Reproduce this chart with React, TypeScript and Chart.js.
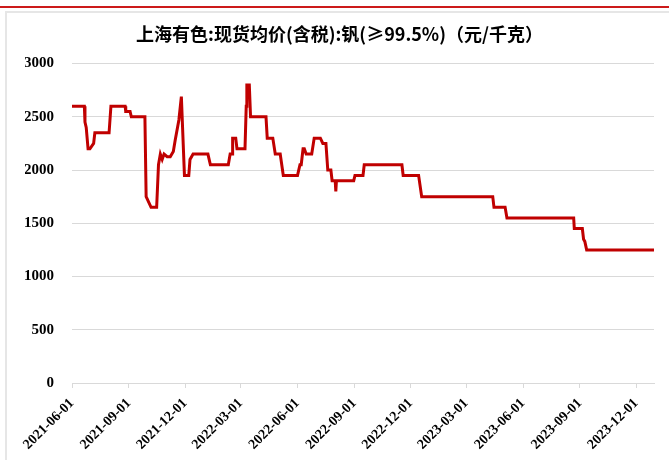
import React, { useEffect, useRef } from "react";
import { Chart, registerables } from "chart.js";

Chart.register(...registerables);

const TITLE = "上海有色:现货均价(含税):钒(≥99.5%)（元/千克）";
const START_DATE = "2021-06-01";
const END_DATE = "2023-12-30";
const tickLabels = [
  "2021-06-01", "2021-09-01", "2021-12-01", "2022-03-01", "2022-06-01", "2022-09-01",
  "2022-12-01", "2023-03-01", "2023-06-01", "2023-09-01", "2023-12-01",
];
const yTicks = [0, 500, 1000, 1500, 2000, 2500, 3000];

const dates = [
  "2021-06-01", "2021-06-21", "2021-06-22", "2021-06-24", "2021-06-27", "2021-06-30",
  "2021-07-06", "2021-07-08", "2021-07-31", "2021-08-03", "2021-08-26", "2021-08-27",
  "2021-09-03", "2021-09-05", "2021-09-27", "2021-09-29", "2021-10-07", "2021-10-16",
  "2021-10-19", "2021-10-22", "2021-10-25", "2021-10-28", "2021-11-02", "2021-11-07",
  "2021-11-12", "2021-11-15", "2021-11-21", "2021-11-25", "2021-11-30", "2021-12-07",
  "2021-12-09", "2021-12-14", "2022-01-07", "2022-01-11", "2022-02-09", "2022-02-12",
  "2022-02-15", "2022-02-16", "2022-02-21", "2022-02-23", "2022-03-08", "2022-03-10",
  "2022-03-11", "2022-03-15", "2022-03-17", "2022-04-11", "2022-04-13", "2022-04-22",
  "2022-04-26", "2022-05-04", "2022-05-09", "2022-06-01", "2022-06-05", "2022-06-07",
  "2022-06-10", "2022-06-12", "2022-06-15", "2022-06-24", "2022-06-28", "2022-07-08",
  "2022-07-12", "2022-07-17", "2022-07-20", "2022-07-25", "2022-07-27", "2022-08-01",
  "2022-08-02", "2022-08-03", "2022-08-31", "2022-09-02", "2022-09-15", "2022-09-17",
  "2022-11-17", "2022-11-19", "2022-12-14", "2022-12-19", "2023-04-13", "2023-04-15",
  "2023-05-03", "2023-05-06", "2023-08-22", "2023-08-23", "2023-09-05", "2023-09-07",
  "2023-09-09", "2023-09-12", "2023-12-30",
];
const values = [
  2600, 2600, 2450, 2400, 2200, 2200,
  2250, 2350, 2350, 2600, 2600, 2550,
  2550, 2500, 2500, 1750, 1650, 1650,
  2050, 2150, 2100, 2150, 2125, 2125,
  2175, 2280, 2470, 2690, 1950, 1950,
  2100, 2150, 2150, 2050, 2050, 2150,
  2150, 2300, 2300, 2200, 2200, 2600,
  2800, 2800, 2500, 2500, 2300, 2300,
  2150, 2150, 1950, 1950, 2050, 2050,
  2200, 2200, 2150, 2150, 2300, 2300,
  2250, 2250, 2000, 2000, 1900, 1900,
  1800, 1900, 1900, 1950, 1950, 2050,
  2050, 1950, 1950, 1750, 1750, 1650,
  1650, 1550, 1550, 1450, 1450, 1350,
  1330, 1250, 1250,
];

const dayOf = (s: string) => {
  const [y, m, d] = s.split("-").map(Number);
  const [y0, m0, d0] = START_DATE.split("-").map(Number);
  return Math.round((Date.UTC(y, m - 1, d) - Date.UTC(y0, m0 - 1, d0)) / 86400000);
};

export default function App() {
  const ref = useRef<HTMLCanvasElement | null>(null);
  useEffect(() => {
    document.body.style.margin = "0";
    if (!ref.current) return;
    const tickDays = tickLabels.map(dayOf);
    const labelByDay: Record<number, string> = {};
    tickLabels.forEach((t, i) => (labelByDay[tickDays[i]] = t));
    const points = dates.map((d, i) => ({ x: dayOf(d), y: values[i] }));
    const chart = new Chart(ref.current, {
      type: "line",
      data: {
        datasets: [
          {
            data: points,
            borderColor: "#C00000",
            borderWidth: 3,
            pointRadius: 0,
            tension: 0,
            fill: false,
          },
        ],
      },
      options: {
        animation: false,
        responsive: false,
        maintainAspectRatio: false,
        layout: { padding: { left: 25, right: 15, top: 0, bottom: 0 } },
        plugins: {
          legend: { display: false },
          tooltip: { enabled: false },
          title: {
            display: true,
            text: TITLE,
            color: "#000",
            font: { family: "'Noto Sans CJK SC'", size: 18, weight: "bold" },
            padding: { top: 23, bottom: 19 },
          },
        },
        scales: {
          x: {
            type: "linear",
            min: 0,
            max: dayOf(END_DATE),
            afterBuildTicks: (s: any) => {
              s.ticks = tickDays.map((v) => ({ value: v }));
            },
            afterFit: (s: any) => {
              s.height = 77;
            },
            ticks: {
              autoSkip: false,
              maxRotation: 45,
              minRotation: 45,
              padding: 7,
              color: "#000",
              font: { family: "'Liberation Serif'", size: 14, weight: "bold" },
              callback: (v: any) => labelByDay[v as number] ?? "",
            },
            grid: {
              drawOnChartArea: false,
              drawTicks: true,
              tickLength: 5,
              color: "#d9d9d9",
            },
            border: { display: true, color: "#d9d9d9", width: 1 },
          },
          y: {
            min: 0,
            max: 3000,
            afterBuildTicks: (s: any) => {
              s.ticks = yTicks.map((v) => ({ value: v }));
            },
            afterFit: (s: any) => {
              s.width = 47;
            },
            ticks: {
              padding: 18,
              color: "#000",
              font: { family: "'Liberation Serif'", size: 15, weight: "bold" },
              callback: (v: any) => String(v),
            },
            grid: { drawTicks: false, color: "#d9d9d9", lineWidth: 1 },
            border: { display: false },
          },
        },
      },
    });
    return () => chart.destroy();
  }, []);
  return (
    <div style={{ position: "relative", width: 669, height: 460, background: "#fff", overflow: "hidden" }}>
      <div style={{ position: "absolute", left: 0, top: 6, width: 669, height: 2, background: "#CC1A1A" }} />
      <div
        style={{
          position: "absolute",
          left: 5,
          top: 11,
          width: 680,
          height: 470,
          border: "2px solid #e6e6e6",
        }}
      />
      <canvas ref={ref} width={669} height={460} style={{ position: "absolute", left: 0, top: 0 }} />
    </div>
  );
}
